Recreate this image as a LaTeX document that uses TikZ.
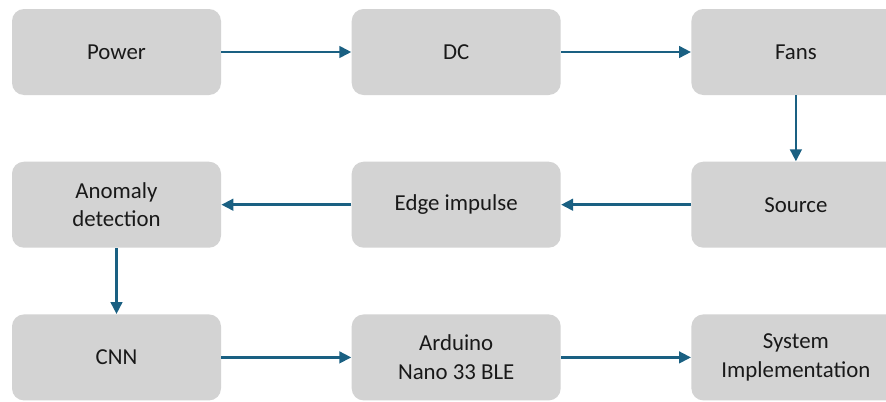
\documentclass[tikz,border=0pt]{standalone}
\usepackage{fontspec}
\setmainfont{Carlito}
\usetikzlibrary{arrows.meta, positioning}
\definecolor{boxgray}{RGB}{211,211,211}
\definecolor{flowblue}{RGB}{26,96,130}
\tikzset{
block/.style={fill=boxgray, rounded corners=0.24cm, minimum width=4.18cm, minimum height=1.72cm, align=center, text=black!90, font=\fontsize{13}{16.4}\selectfont}, % grey step boxes
flow/.style={draw=flowblue, line width=0.055cm, -{Triangle[length=0.24cm, width=0.23cm]}}, % blue connectors
}

\begin{document}
\begin{tikzpicture}
    \clip (0,0) rectangle (17.72,-8.02);
    \node[block] (power) at (2.33,-1.04) {Power};
    \node[block, right=2.6cm of power] (dc) {DC};
    \node[block, right=2.6cm of dc] (fans) {Fans};
    \node[block, below=1.32cm of fans] (source) {Source};
    \node[block, left=2.6cm of source] (edge) {Edge impulse};
    \node[block, left=2.6cm of edge] (anomaly) {Anomaly\\detection};
    \node[block, below=1.32cm of anomaly] (cnn) {CNN};
    \node[block, right=2.6cm of cnn] (arduino) {Arduino\\Nano 33 BLE};
    \node[block, right=2.6cm of arduino] (system) {System\\Implementation};
    \draw[flow] (power) -- (dc);
    \draw[flow] (dc) -- (fans);
    \draw[flow] (fans) -- (source);
    \draw[flow] (source) -- (edge);
    \draw[flow] (edge) -- (anomaly);
    \draw[flow] (anomaly) -- (cnn);
    \draw[flow] (cnn) -- (arduino);
    \draw[flow] (arduino) -- (system);
\end{tikzpicture}
\end{document}
